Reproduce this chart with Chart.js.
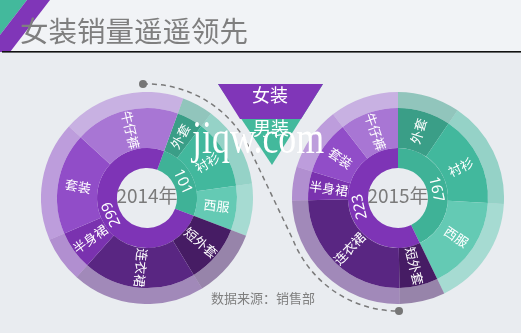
<!DOCTYPE html>
<html>
<head>
<meta charset="utf-8">
<script src="https://cdn.jsdelivr.net/npm/chart.js@4.4.0/dist/chart.umd.min.js"></script>
<style>
  html, body { margin: 0; padding: 0; }
  body {
    width: 521px; height: 333px; overflow: hidden; position: relative;
    background: #e9ecf0;
    font-family: "Noto Sans CJK SC", "Noto Sans", sans-serif;
  }
  canvas { position: absolute; }
  #backdrop { left: 0; top: 0; }
  #overlay { left: 0; top: 0; pointer-events: none; }
  #pie2014 { left: 41px; top: 92px; }
  #pie2015 { left: 292px; top: 92px; }
</style>
</head>
<body>
<canvas id="backdrop" width="521" height="333"></canvas>
<canvas id="pie2014" width="212" height="212"></canvas>
<canvas id="pie2015" width="212" height="212"></canvas>
<canvas id="overlay" width="521" height="333"></canvas>
<script>
// clockwise from the start angle: men's lines first, then women's
const categories = ["外套", "衬衫", "西服", "短外套", "连衣裙", "半身裙", "套装", "牛仔裤"];
const groups = ["男装", "女装"];

const sales2014 = [19, 50, 32, 42, 81, 28, 73, 75];
const totals2014 = [101, 299];

const sales2015 = [37, 64, 66, 27, 97, 20, 38, 41];
const totals2015 = [167, 223];

const title = "女装销量遥遥领先";
const sourceNote = "数据来源：销售部";

const categoryColors = ["#3a9e87", "#42b89d", "#64cab4", "#461c64", "#592682", "#7a32af", "#914dc8", "#a876d4"];
const groupColors = ["#3fb297", "#7e34b6"];
const PURPLE = "#8036b8";
const TEAL = "#43b99c";

function fade(hex, a) {
  const n = parseInt(hex.slice(1), 16);
  return "rgba(" + (n >> 16) + "," + ((n >> 8) & 255) + "," + (n & 255) + "," + a + ")";
}
const outerColors = categoryColors.map(c => fade(c, 0.5));

// names on the category ring (radial), totals on the inner ring (tangential), year in the hole
const ringLabels = {
  id: "ringLabels",
  afterDatasetsDraw(chart, args, opts) {
    const ctx = chart.ctx;
    ctx.save();
    ctx.textAlign = "center";
    ctx.textBaseline = "middle";
    ctx.fillStyle = "#ffffff";

    ctx.font = '13px "Noto Sans CJK SC"';
    chart.getDatasetMeta(1).data.forEach((arc, i) => {
      const p = arc.getProps(["x", "y", "startAngle", "endAngle", "innerRadius", "outerRadius"], true);
      const mid = (p.startAngle + p.endAngle) / 2;
      const r = (p.innerRadius + p.outerRadius) / 2;
      let rot = mid;
      if (Math.cos(mid) < -0.15) rot += Math.PI;
      ctx.save();
      ctx.translate(p.x + r * Math.cos(mid), p.y + r * Math.sin(mid));
      ctx.rotate(rot);
      ctx.fillText(chart.data.labels[i], 0, 0);
      ctx.restore();
    });

    ctx.font = '15px "Noto Sans"';
    const totals = chart.data.datasets[2].data;
    chart.getDatasetMeta(2).data.forEach((arc, i) => {
      const p = arc.getProps(["x", "y", "startAngle", "endAngle", "innerRadius", "outerRadius"], true);
      const mid = (p.startAngle + p.endAngle) / 2;
      const r = (p.innerRadius + p.outerRadius) / 2;
      ctx.save();
      ctx.translate(p.x + r * Math.cos(mid), p.y + r * Math.sin(mid));
      ctx.rotate(mid + Math.PI / 2);
      ctx.fillText(String(totals[i]), 0, 1);
      ctx.restore();
    });

    const c = chart.getDatasetMeta(2).data[0];
    ctx.fillStyle = "#7b7b7b";
    ctx.font = '19px "Noto Sans CJK SC"';
    ctx.fillText(opts.year, c.x, c.y - 2);
    ctx.restore();
  }
};

function sunburst(id, year, sales, totals, rotation) {
  return new Chart(document.getElementById(id), {
    type: "doughnut",
    data: {
      labels: categories,
      datasets: [
        { data: sales, backgroundColor: outerColors, weight: 16 },
        { data: sales, backgroundColor: categoryColors, weight: 40 },
        { data: totals, backgroundColor: groupColors, weight: 20 }
      ]
    },
    options: {
      responsive: false,
      animation: false,
      events: [],
      rotation: rotation,
      cutout: 30,
      layout: { padding: 0 },
      elements: { arc: { borderWidth: 0, hoverOffset: 0, offset: 0 } },
      plugins: {
        legend: { display: false },
        tooltip: { enabled: false },
        ringLabels: { year: year }
      }
    },
    plugins: [ringLabels]
  });
}

sunburst("pie2014", "2014年", sales2014, totals2014, 20);
sunburst("pie2015", "2015年", sales2015, totals2015, 0);

// page furniture: header, dashed connector, triangle key, source note
const bg = document.getElementById("backdrop").getContext("2d");
bg.fillStyle = "#f1f3f6";
bg.fillRect(0, 0, 521, 52);
bg.fillStyle = TEAL;
bg.beginPath(); bg.moveTo(0, 0); bg.lineTo(27, 0); bg.lineTo(0, 35); bg.closePath(); bg.fill();
bg.fillStyle = PURPLE;
bg.beginPath(); bg.moveTo(27, 0); bg.lineTo(50, 0); bg.lineTo(10, 52); bg.lineTo(0, 52); bg.lineTo(0, 35); bg.closePath(); bg.fill();
bg.fillStyle = "#111";
bg.fillRect(2, 51, 519, 1.6);

bg.fillStyle = "#7f7f7f";
bg.font = '28.5px "Noto Sans CJK SC"';
bg.textBaseline = "middle";
bg.fillText(title, 20, 31);

bg.save();
bg.strokeStyle = "#7a7a7a";
bg.lineWidth = 1.5;
bg.setLineDash([5, 4]);
bg.beginPath();
bg.arc(147, 198, 114, Math.atan2(-114, -4), -22 * Math.PI / 180, false);
bg.arc(398, 198, 113, 158 * Math.PI / 180, Math.PI / 2, true);
bg.stroke();
bg.restore();
bg.fillStyle = "#767676";
bg.beginPath(); bg.arc(143, 84, 4, 0, Math.PI * 2); bg.fill();
bg.beginPath(); bg.arc(399, 311, 4, 0, Math.PI * 2); bg.fill();

bg.fillStyle = TEAL;
bg.beginPath(); bg.moveTo(218, 84); bg.lineTo(323, 84); bg.lineTo(272, 165); bg.closePath(); bg.fill();
bg.fillStyle = PURPLE;
bg.beginPath(); bg.moveTo(218, 84); bg.lineTo(323, 84); bg.lineTo(301, 119); bg.lineTo(240, 119); bg.closePath(); bg.fill();
bg.fillStyle = "#ffffff";
bg.textAlign = "center";
bg.font = '18px "Noto Sans CJK SC"';
bg.fillText(groups[1], 270, 95);
bg.fillText(groups[0], 271, 128);

bg.fillStyle = "#7f7f7f";
bg.font = '13px "Noto Sans CJK SC"';
bg.fillText(sourceNote, 263, 298);

// site mark across the top of the charts
const ov = document.getElementById("overlay").getContext("2d");
ov.save();
ov.translate(192, 153);
ov.scale(0.78, 1);
ov.fillStyle = "#ffffff";
ov.font = '46px "Liberation Serif"';
ov.fillText("jiqw.com", 0, 0);
ov.restore();
</script>
</body>
</html>
